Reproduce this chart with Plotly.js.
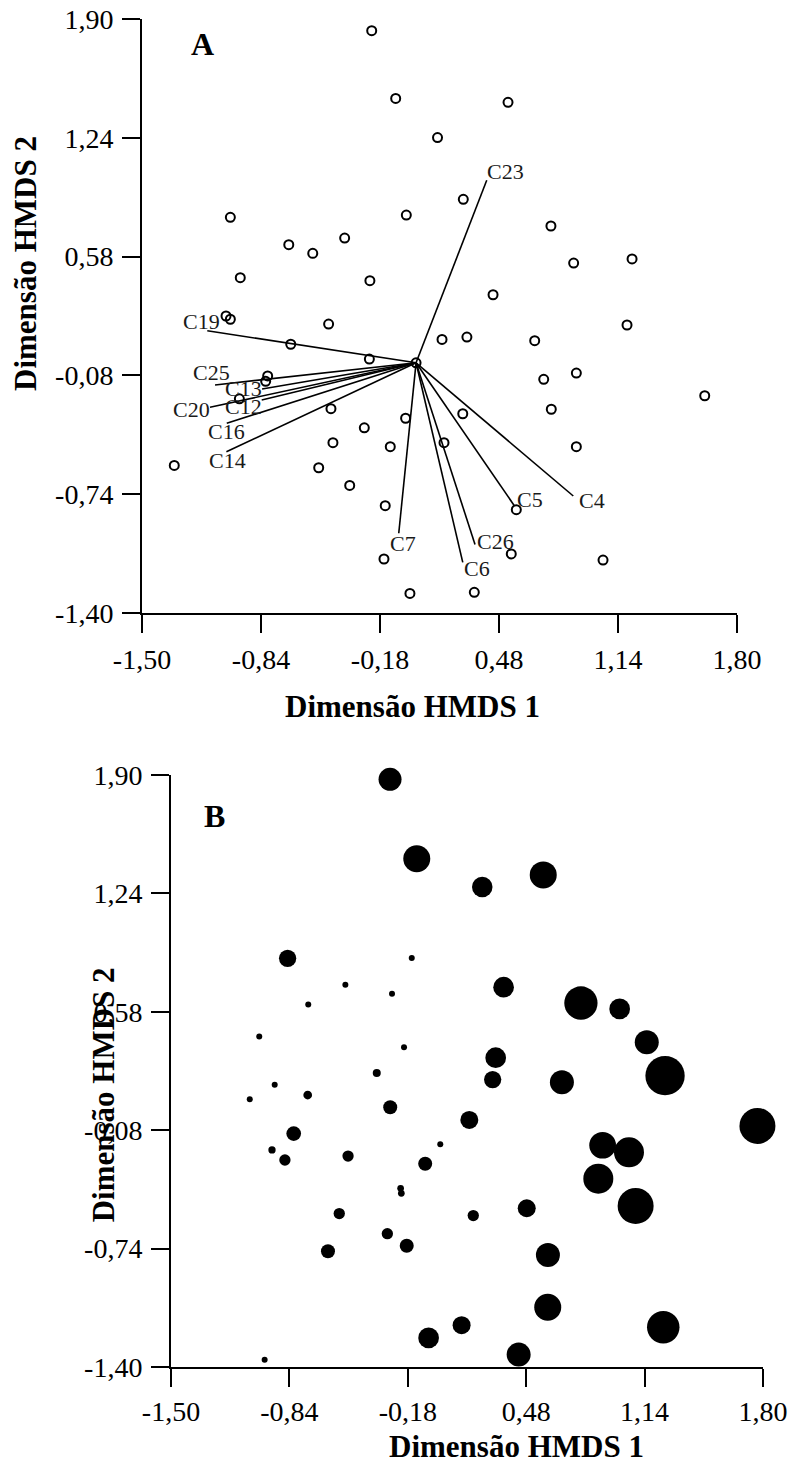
<!DOCTYPE html>
<html>
<head>
<meta charset="utf-8">
<script src="https://cdn.plot.ly/plotly-3.0.1.min.js"></script>
<style>
  html, body { margin: 0; padding: 0; background: #fff; }
  #chart { width: 796px; height: 1473px; }
</style>
</head>
<body>
<div id="chart"></div>
<script>
// ---------------- DATA ----------------
// Panel A: site scores (HMDS ordination)
const ptsAx = [-0.226,-0.093,0.530,0.139,0.282,-1.010,-0.034,0.768,-0.686,-0.376,-0.553,0.894,1.218,-0.955,-0.236,0.447,1.190,-1.034,-1.010,-0.465,0.164,0.302,0.678,-0.675,-0.239,0.020,-0.803,-0.814,0.909,0.728,1.621,-0.960,-0.452,0.279,0.770,-0.038,-0.267,-0.441,-0.123,0.175,0.909,-1.321,-0.520,-0.348,-0.151,0.576,0.548,-0.158,1.057,-0.014,0.343];
const ptsAy = [1.835,1.459,1.437,1.241,0.898,0.798,0.811,0.750,0.646,0.683,0.598,0.544,0.567,0.463,0.446,0.368,0.200,0.250,0.232,0.205,0.120,0.133,0.113,0.093,0.011,-0.010,-0.083,-0.113,-0.067,-0.102,-0.193,-0.210,-0.265,-0.293,-0.268,-0.318,-0.371,-0.454,-0.476,-0.454,-0.476,-0.580,-0.593,-0.691,-0.804,-0.826,-1.072,-1.100,-1.106,-1.291,-1.285];

// Panel A: variable vectors
const vecNames = ['C23','C19','C25','C13','C20','C12','C16','C14','C7','C5','C4','C26','C6'];
const vecOriginX = 0.020;
const vecOriginY = -0.010;
const vecX = [0.412,-1.138,-1.095,-0.834,-1.123,-0.836,-1.030,-1.032,-0.076,0.565,0.892,0.347,0.279];
const vecY = [1.004,0.168,-0.133,-0.156,-0.257,-0.217,-0.346,-0.504,-0.957,-0.804,-0.750,-1.019,-1.119];

// Panel B: site scores with bubble sizes (marker diameter, px)
const ptsBx = [-0.279,-0.130,0.235,0.575,-0.850,-0.158,-0.528,-0.268,-0.735,-1.008,-0.201,-0.353,-0.922,-0.738,-1.061,-0.278,0.354,0.785,1.001,1.152,1.254,0.310,0.293,0.679,0.163,1.769,-0.816,-0.937,-0.865,-0.513,0.001,-0.083,-0.220,-0.216,-0.562,0.185,-0.294,-0.186,-0.625,0.120,-0.064,-0.978,0.906,1.053,0.882,1.090,0.483,0.601,0.600,1.244,0.438];
const ptsBy = [1.876,1.433,1.276,1.343,0.878,0.880,0.731,0.681,0.620,0.443,0.382,0.239,0.174,0.116,0.092,0.048,0.717,0.629,0.596,0.410,0.224,0.324,0.202,0.187,-0.023,-0.056,-0.099,-0.190,-0.246,-0.224,-0.158,-0.267,-0.404,-0.432,-0.545,-0.556,-0.657,-0.724,-0.755,-1.167,-1.238,-1.359,-0.164,-0.203,-0.350,-0.502,-0.515,-0.776,-1.067,-1.179,-1.331];
const ptsBsize = [23,27,20.5,27,17.3,6,6,6,6,6,6,8,6,8.7,6,14,20.7,33.3,20.7,24,39.3,20.7,17.3,24,18,36,14.7,7.3,11.3,11.3,6,14,6.7,6.7,11.3,11.3,11.3,14,14,18,20.7,6,26.7,30,30,36,18,24,27,32.5,24];

// Axis ticks
const tickVals = [-1.50,-0.84,-0.18,0.48,1.14,1.80];
const xTickText = ['-1,50','-0,84','-0,18','0,48','1,14','1,80'];
const yTickVals = [-1.40,-0.74,-0.08,0.58,1.24,1.90];
const yTickText = ['-1,40','-0,74','-0,08','0,58','1,24','1,90'];
const xTitle = 'Dimensão HMDS 1';
const yTitle = 'Dimensão HMDS 2';

// ---------------- STYLE / LAYOUT ----------------
const W = 796, H = 1473;
const px = v => v / W;
const py = v => 1 - v / H;
const FONT = '"Liberation Serif", "Times New Roman", Times, serif';

// label offsets (px) relative to vector end: [dx, dy(down)]
const labelOffsets = {
  C23:[18.8,-8.6], C19:[-5.3,-9.7], C25:[-3.5,-12], C13:[-19,-1], C20:[-18.3,2.7],
  C12:[-18,6], C16:[-0.7,8.4], C14:[0.7,9], C7:[4,10], C5:[15.4,-6.7],
  C4:[18.7,4.7], C26:[20,-2.6], C6:[14.5,6]
};

// build vector line trace
const lx = [], ly = [];
vecNames.forEach((n, i) => {
  lx.push(vecOriginX, vecX[i], null);
  ly.push(vecOriginY, vecY[i], null);
});

const traces = [
  { x: lx, y: ly, xaxis: 'x', yaxis: 'y', mode: 'lines', type: 'scatter',
    line: { color: '#000', width: 1.6 }, hoverinfo: 'skip', cliponaxis: false },
  { x: ptsAx, y: ptsAy, xaxis: 'x', yaxis: 'y', mode: 'markers', type: 'scatter', cliponaxis: false,
    marker: { symbol: 'circle-open', size: 9, color: '#000', opacity: 1, line: { color: '#000', width: 2 } } },
  { x: ptsBx, y: ptsBy, xaxis: 'x2', yaxis: 'y2', mode: 'markers', type: 'scatter', cliponaxis: false,
    marker: { symbol: 'circle', size: ptsBsize, color: '#000', opacity: 1, line: { width: 0 } } }
];

function axisStyle(extra) {
  return Object.assign({
    showline: true, linecolor: '#000', linewidth: 2,
    ticks: 'outside', ticklen: 18, tickwidth: 2, tickcolor: '#000',
    showgrid: false, zeroline: false,
    tickfont: { family: FONT, size: 28, color: '#000' },
    fixedrange: true
  }, extra);
}

const annotations = [];
vecNames.forEach((n, i) => {
  const o = labelOffsets[n];
  annotations.push({
    xref: 'x', yref: 'y', x: vecX[i], y: vecY[i], text: n, showarrow: false,
    xanchor: 'center', yanchor: 'middle', xshift: o[0], yshift: -o[1],
    font: { family: FONT, size: 22, color: '#1a1a1a' }
  });
});
const titleFont = { family: FONT, size: 31, color: '#000' };
annotations.push(
  { xref: 'paper', yref: 'paper', x: px(202.5), y: py(44), text: '<b>A</b>', showarrow: false,
    xanchor: 'center', yanchor: 'middle', font: { family: FONT, size: 32, color: '#000' } },
  { xref: 'paper', yref: 'paper', x: px(214), y: py(815.5), text: '<b>B</b>', showarrow: false,
    xanchor: 'center', yanchor: 'middle', font: { family: FONT, size: 32, color: '#000' } },
  { xref: 'paper', yref: 'paper', x: px(412), y: py(706.5), text: '<b>' + xTitle + '</b>', showarrow: false,
    xanchor: 'center', yanchor: 'middle', font: titleFont },
  { xref: 'paper', yref: 'paper', x: px(516), y: py(1446), text: '<b>' + xTitle + '</b>', showarrow: false,
    xanchor: 'center', yanchor: 'middle', font: titleFont },
  { xref: 'paper', yref: 'paper', x: px(26), y: py(264), text: '<b>' + yTitle + '</b>', showarrow: false,
    textangle: -90, xanchor: 'center', yanchor: 'middle', font: titleFont },
  { xref: 'paper', yref: 'paper', x: px(103.3), y: py(1095), text: '<b>' + yTitle + '</b>', showarrow: false,
    textangle: -90, xanchor: 'center', yanchor: 'middle', font: titleFont }
);

const layout = {
  width: W, height: H,
  margin: { l: 0, r: 0, t: 0, b: 0 },
  paper_bgcolor: '#fff', plot_bgcolor: '#fff',
  showlegend: false,
  font: { family: FONT, color: '#000' },
  xaxis: axisStyle({ domain: [px(142), px(737)], range: [-1.5, 1.8], anchor: 'y',
    tickmode: 'array', tickvals: tickVals, ticktext: xTickText, ticklabelstandoff: 2 }),
  yaxis: axisStyle({ domain: [py(613), py(19)], range: [-1.4, 1.9], anchor: 'x',
    tickmode: 'array', tickvals: yTickVals, ticktext: yTickText, ticklabelstandoff: 3 }),
  xaxis2: axisStyle({ domain: [px(171), px(763)], range: [-1.5, 1.8], anchor: 'y2',
    tickmode: 'array', tickvals: tickVals, ticktext: xTickText, ticklabelstandoff: 0 }),
  yaxis2: axisStyle({ domain: [py(1367), py(775)], range: [-1.4, 1.9], anchor: 'x2',
    tickmode: 'array', tickvals: yTickVals, ticktext: yTickText, ticklabelstandoff: 3 }),
  annotations: annotations
};

Plotly.newPlot('chart', traces, layout, { staticPlot: true, displayModeBar: false });
</script>
</body>
</html>
